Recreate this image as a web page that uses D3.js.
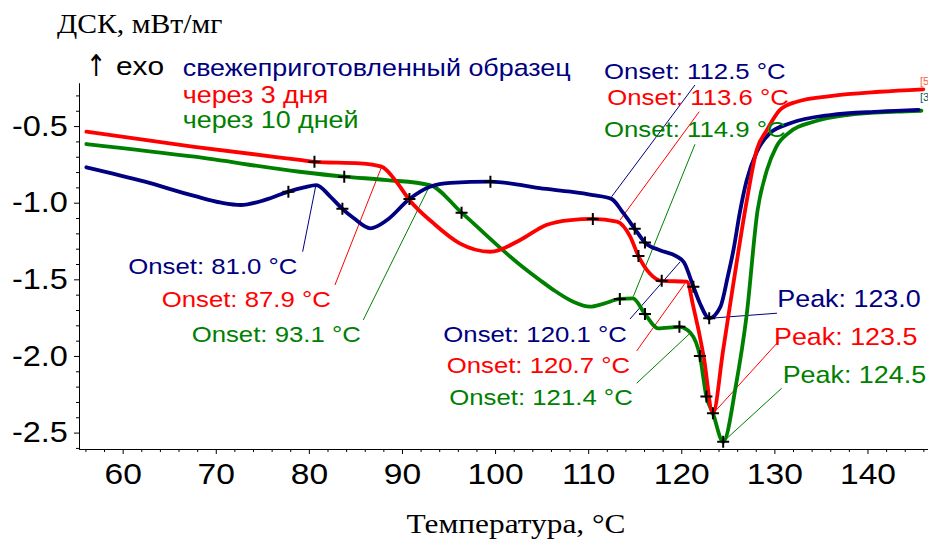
<!DOCTYPE html>
<html><head><meta charset="utf-8">
<script src="https://cdn.jsdelivr.net/npm/d3@7"></script>
<style>body{margin:0;background:#fff}svg{display:block}</style>
</head><body>
<script>
// ---------- data ----------
const xTicks = [60,70,80,90,100,110,120,130,140];
const yTicks = [-0.5,-1.0,-1.5,-2.0,-2.5];
const seriesNames = ["свежеприготовленный образец","через 3 дня","через 10 дней"];
const seriesColors = ["#000080","#ff0000","#008000"];

const freshData = [[56.1,-0.769],[62.4,-0.863],[67.7,-0.956],[70.6,-1.0],[72.7,-1.015],[75.3,-0.982],[77.8,-0.928],[79.5,-0.9],[80.8,-0.885],[82.3,-0.96],[83.6,-1.04],[84.8,-1.10],[86.6,-1.167],[88.4,-1.113],[90.8,-0.976],[93.0,-0.896],[95.2,-0.87],[99.5,-0.863],[102.7,-0.884],[104.8,-0.905],[108.1,-0.928],[110.5,-0.95],[112.5,-0.975],[113.8,-1.07],[115.0,-1.17],[116.1,-1.26],[117.7,-1.31],[119.5,-1.35],[120.3,-1.39],[121.3,-1.548],[122.0,-1.656],[123.0,-1.754],[124.2,-1.68],[125.0,-1.48],[125.6,-1.31],[126.3,-1.06],[127.0,-0.86],[128.1,-0.67],[129.5,-0.547],[131.7,-0.482],[136.0,-0.428],[141.3,-0.406],[145.5,-0.395]];
const day3Data = [[56.1,-0.537],[67.7,-0.635],[79.0,-0.721],[80.6,-0.733],[85.5,-0.743],[87.8,-0.765],[89.4,-0.863],[90.8,-0.982],[93.4,-1.135],[96.2,-1.265],[99.5,-1.32],[102.7,-1.243],[105.5,-1.145],[108.1,-1.113],[110.5,-1.106],[113.1,-1.124],[114.5,-1.22],[115.4,-1.348],[116.6,-1.46],[117.9,-1.51],[120.6,-1.515],[121.3,-1.68],[122.4,-2.0],[123.4,-2.374],[124.5,-1.96],[125.6,-1.526],[127.0,-1.0],[128.1,-0.656],[129.2,-0.526],[130.6,-0.395],[132.4,-0.341],[136.0,-0.304],[141.3,-0.276],[146.0,-0.26]];
const day10Data = [[56.1,-0.617],[67.7,-0.7],[79.0,-0.798],[83.8,-0.83],[88.4,-0.852],[93.0,-0.885],[96.4,-1.065],[102.7,-1.406],[104.8,-1.504],[106.3,-1.57],[108.4,-1.646],[110.2,-1.678],[111.6,-1.66],[113.4,-1.628],[114.8,-1.624],[116.1,-1.726],[117.5,-1.82],[119.8,-1.81],[121.0,-1.85],[122.0,-2.0],[122.7,-2.265],[123.4,-2.374],[124.5,-2.56],[125.9,-2.18],[127.0,-1.744],[128.2,-1.048],[129.2,-0.787],[130.2,-0.635],[131.7,-0.537],[134.2,-0.472],[137.8,-0.428],[143.1,-0.406],[145.8,-0.4]];

const freshMarks = [[77.8,-0.928],[83.6,-1.04],[90.8,-0.976],[99.5,-0.863],[115.0,-1.17],[116.1,-1.26],[121.3,-1.548],[123.0,-1.754]];
const day3Marks = [[80.6,-0.733],[110.5,-1.106],[115.4,-1.348],[117.9,-1.51],[123.4,-2.374]];
const day10Marks = [[83.8,-0.83],[96.4,-1.065],[113.4,-1.628],[116.1,-1.726],[119.8,-1.81],[122.0,-2.0],[122.7,-2.265],[124.5,-2.56]];

const annotationTexts = ["Onset: 81.0 °C","Onset: 87.9 °C","Onset: 93.1 °C",
  "Onset: 112.5 °C","Onset: 113.6 °C","Onset: 114.9 °C",
  "Onset: 120.1 °C","Onset: 120.7 °C","Onset: 121.4 °C",
  "Peak: 123.0","Peak: 123.5","Peak: 124.5"];
const annotationSeries = [0,1,2,0,1,2,0,1,2,0,1,2];
const annotationPoints = [[80.76,-0.884],[87.82,-0.765],[93.01,-0.885],
  [112.52,-0.961],[113.42,-1.113],[114.84,-1.613],
  [119.86,-1.387],[120.40,-1.526],[120.94,-1.852],
  [123.08,-1.754],[123.44,-2.374],[124.51,-2.559]];
// leader line ends & label anchors (data units)
const leaderEnds = [[79.33,-1.32],[82.80,-1.537],[85.84,-1.765],
  [121.47,-0.232],[121.93,-0.406],[121.47,-0.619],
  [114.49,-1.759],[115.21,-1.967],[115.21,-2.178],
  [130.28,-1.721],[130.42,-1.907],[130.78,-2.211]];
const labelAnchors = [[60.60,-1.467],[64.19,-1.678],[67.41,-1.907],
  [111.71,-0.195],[112.05,-0.363],[111.70,-0.573],
  [94.44,-1.907],[94.80,-2.109],[95.08,-2.320],
  [130.31,-1.678],[129.96,-1.928],[130.89,-2.178]];

// ---------- chart ----------
const W = 928, H = 545;
const SANS = "'Liberation Sans', Arial, sans-serif";
const SERIF = "'Liberation Serif', 'Times New Roman', serif";
const K = 1.12; // horizontal glyph stretch of the reference

const svg = d3.select("body").append("svg").attr("width", W).attr("height", H);
const x = d3.scaleLinear().domain([55.31, 146.5]).range([79, 928]);
const y = d3.scaleLinear().domain([-2.607, -0.219]).range([449, 83]);

function stext(g, txt, px, py, opts) {
  return g.append("text")
    .attr("transform", `translate(${px},${py}) scale(${opts.k || K},1)`)
    .attr("text-anchor", opts.anchor || "start")
    .attr("font-family", opts.family || SANS)
    .attr("font-size", opts.size)
    .attr("fill", opts.fill || "#000")
    .text(txt);
}

// axes
const xMinor = d3.range(56, 147, 2).filter(v => v % 10 !== 0);
svg.append("g").attr("transform", "translate(0,449)")
  .call(d3.axisBottom(x).tickValues(xMinor).tickSize(3).tickSizeOuter(0).tickFormat(""))
  .call(g => g.selectAll("line,path").attr("stroke", "#000"));
const gx = svg.append("g").attr("transform", "translate(0,449)")
  .call(d3.axisBottom(x).tickValues(xTicks).tickSize(5).tickSizeOuter(0).tickPadding(9).tickFormat(d => d));
gx.selectAll("line,path").attr("stroke", "#000");
gx.selectAll("text").attr("font-family", SANS).attr("font-size", 30).attr("fill", "#000")
  .attr("transform", `scale(${K},1)`);

const yMinor = d3.range(-2.6, -0.25, 0.1).map(v => +v.toFixed(1)).filter(v => Math.abs(v * 2 - Math.round(v * 2)) > 1e-6);
svg.append("g").attr("transform", "translate(79,0)")
  .call(d3.axisLeft(y).tickValues(yMinor).tickSize(3).tickSizeOuter(0).tickFormat(""))
  .call(g => g.selectAll("line,path").attr("stroke", "#000"));
const gy = svg.append("g").attr("transform", "translate(79,0)")
  .call(d3.axisLeft(y).tickValues(yTicks).tickSize(5).tickSizeOuter(0).tickPadding(5).tickFormat(d => d.toFixed(1)));
gy.selectAll("line,path").attr("stroke", "#000");
gy.selectAll("text").attr("font-family", SANS).attr("font-size", 29).attr("fill", "#000")
  .attr("transform", `scale(${K},1)`);

// titles
stext(svg, "ДСК, мВт/мг", 57, 33, {size: 28, family: SERIF, k: 1.06});
stext(svg, "Температура, °C", 516, 533, {size: 28, family: SERIF, anchor: "middle"});
stext(svg, "↑", 86, 76, {size: 30, family: "'DejaVu Sans', sans-serif", k: 0.8});
stext(svg, "exo", 116, 75, {size: 26, k: 1.15});

// legend
const legendBase = [76, 103, 128];
seriesNames.forEach((n, i) => stext(svg, n, 182.7, legendBase[i], {size: 24, fill: seriesColors[i]}));

// leader lines
const gl = svg.append("g");
annotationPoints.forEach((p, i) => {
  gl.append("line")
    .attr("x1", x(p[0])).attr("y1", y(p[1]))
    .attr("x2", x(leaderEnds[i][0])).attr("y2", y(leaderEnds[i][1]))
    .attr("stroke", seriesColors[annotationSeries[i]]).attr("stroke-width", 1);
});

// curves
const line = d3.line().x(d => x(d[0])).y(d => y(d[1])).curve(d3.curveMonotoneX);
const allData = [freshData, day3Data, day10Data];
[2, 0, 1].forEach(i => {
  svg.append("path").datum(allData[i]).attr("d", line)
    .attr("fill", "none").attr("stroke", seriesColors[i])
    .attr("stroke-width", 3.8).attr("stroke-linejoin", "round").attr("stroke-linecap", "round");
});

// end markers
stext(svg, "[5", 920, 85, {size: 11, fill: "#ff6040", k: 1});
stext(svg, "[3", 920, 101, {size: 11, fill: "#006060", k: 1});

// crosses
const allMarks = [].concat(freshMarks, day3Marks, day10Marks);
svg.append("g").selectAll("path").data(allMarks).join("path")
  .attr("transform", d => `translate(${x(d[0])},${y(d[1])})`)
  .attr("d", "M-6,0H6M0,-6V6")
  .attr("stroke", "#000").attr("stroke-width", 2);

// annotation labels
annotationTexts.forEach((t, i) => {
  const a = labelAnchors[i];
  const isPeak = t.startsWith("Peak");
  stext(svg, t, x(a[0]), y(a[1]), {size: isPeak ? 24 : 23, fill: seriesColors[annotationSeries[i]]});
});
</script>
</body></html>
